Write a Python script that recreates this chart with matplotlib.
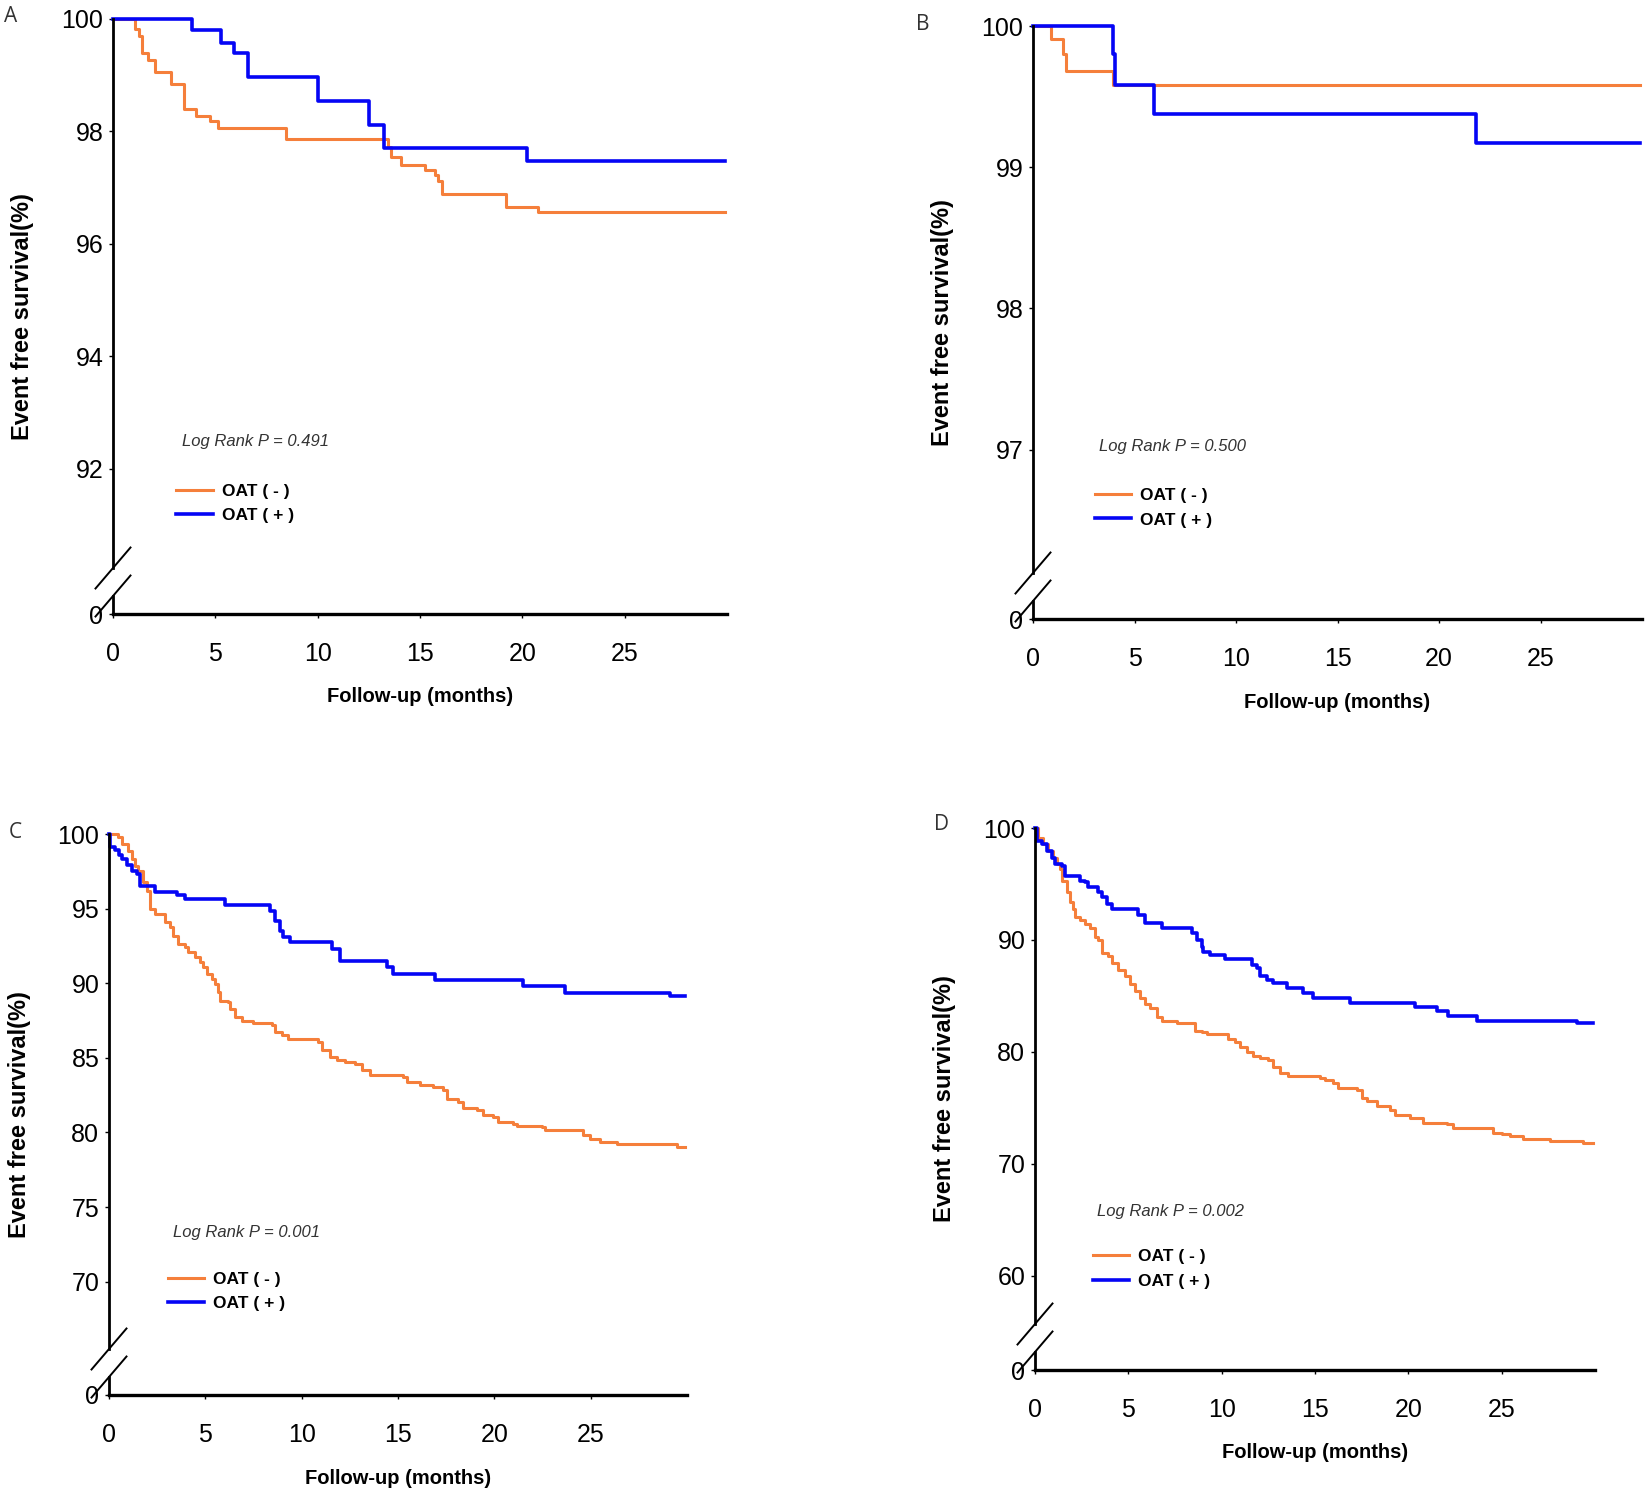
import numpy as np
import matplotlib.pyplot as plt
from matplotlib.lines import Line2D

# ---- data (months, % event free) ----
a_neg_t = [0, 1.06, 1.25, 1.40, 1.70, 2.04, 2.85, 3.47, 4.07, 4.72, 5.13, 8.44, 13.43, 13.6, 14.05,
           15.26, 15.71, 15.9, 16.07, 19.21, 20.76, 29.9]
a_neg_s = [100, 99.82, 99.70, 99.39, 99.27, 99.05, 98.84, 98.40, 98.28, 98.19, 98.07, 97.87, 97.72, 97.54,
           97.41, 97.31, 97.23, 97.12, 96.88, 96.66, 96.56, 96.56]
a_pos_t = [0, 3.87, 5.29, 5.91, 6.6, 10.01, 12.51, 13.24, 20.24, 29.9]
a_pos_s = [100, 99.80, 99.58, 99.39, 98.96, 98.55, 98.12, 97.70, 97.48, 97.48]

b_neg_t = [0, 0.9, 1.5, 1.65, 3.93, 29.9]
b_neg_s = [100, 99.91, 99.80, 99.68, 99.58, 99.58]
b_pos_t = [0, 3.93, 4.05, 5.97, 21.8, 29.9]
b_pos_s = [100, 99.80, 99.58, 99.38, 99.17, 99.17]

c_neg_t = [0, 0.48, 0.66, 1.00, 1.18, 1.35, 1.52, 1.78, 1.95, 2.13, 2.39, 2.91, 3.17, 3.34, 3.60, 3.94,
           4.12, 4.46, 4.72, 4.89, 5.07, 5.33, 5.50, 5.67, 5.76, 6.19, 6.28, 6.54, 6.88, 7.49, 8.44, 8.61,
           8.96, 9.31, 10.86, 11.04, 11.47, 11.81, 12.25, 12.76, 13.11, 13.54, 15.27, 15.45, 16.14, 16.83,
           17.35, 17.52, 18.13, 18.39, 19.08, 19.43, 19.94, 20.20, 20.98, 21.16, 22.45, 22.63, 24.62,
           24.96, 25.48, 26.35, 29.46, 29.9]
c_neg_s = [100, 99.78, 99.33, 98.88, 98.33, 97.88, 97.54, 96.76, 96.21, 94.98, 94.64, 94.08, 93.75, 93.19,
           92.63, 92.41, 92.08, 91.74, 91.41, 91.07, 90.63, 90.29, 89.96, 89.40, 88.84, 88.73, 88.28, 87.72,
           87.50, 87.34, 87.17, 86.72, 86.50, 86.27, 86.05, 85.49, 85.04, 84.82, 84.71, 84.60, 84.15, 83.82,
           83.71, 83.37, 83.15, 83.04, 82.81, 82.25, 82.03, 81.65, 81.47, 81.14, 81.03, 80.69, 80.58, 80.40,
           80.36, 80.18, 79.80, 79.58, 79.35, 79.20, 79.02, 79.02]
c_pos_t = [0, 0.05, 0.3, 0.5, 0.7, 0.92, 1.18, 1.44, 1.61, 2.39, 3.51, 3.94, 6.02, 8.36, 8.61, 8.87, 9.05,
           9.39, 11.56, 11.99, 14.41, 14.76, 16.92, 21.5, 23.67, 29.1, 29.9]
c_pos_s = [100, 99.1, 98.9, 98.6, 98.3, 97.9, 97.5, 97.3, 96.5, 96.1, 95.94, 95.65, 95.25, 94.87, 94.2,
           93.53, 93.08, 92.75, 92.3, 91.52, 91.07, 90.6, 90.22, 89.78, 89.35, 89.11, 89.11]

d_neg_t = [0, 0.18, 0.45, 0.71, 0.98, 1.16, 1.34, 1.43, 1.70, 1.87, 2.05, 2.14, 2.41, 2.68, 2.95, 3.21,
           3.39, 3.57, 3.93, 4.11, 4.46, 4.82, 5.09, 5.36, 5.62, 5.89, 6.16, 6.52, 6.79, 7.59, 8.57, 8.93,
           9.2, 10.36, 10.71, 10.98, 11.34, 11.7, 12.05, 12.5, 12.77, 13.12, 13.57, 15.27, 15.54, 15.98,
           16.25, 17.23, 17.5, 17.77, 18.3, 19.02, 19.29, 20.09, 20.80, 22.05, 22.41, 24.55, 25.0, 25.44,
           26.16, 27.58, 29.37, 29.9]
d_neg_s = [100, 99.12, 98.53, 97.94, 97.35, 96.76, 96.32, 95.29, 94.26, 93.38, 92.79, 92.06, 91.76, 91.47,
           91.03, 90.29, 90.0, 88.82, 88.53, 87.94, 87.35, 86.76, 86.03, 85.44, 84.85, 84.26, 83.97, 83.09,
           82.79, 82.56, 81.91, 81.76, 81.56, 81.18, 80.88, 80.44, 80.0, 79.62, 79.5, 79.26, 78.68, 78.09,
           77.85, 77.65, 77.5, 77.21, 76.76, 76.62, 75.88, 75.59, 75.15, 74.85, 74.41, 74.12, 73.68, 73.53,
           73.24, 72.79, 72.65, 72.5, 72.21, 72.06, 71.91, 71.91]
d_pos_t = [0, 0.09, 0.36, 0.63, 0.89, 1.07, 1.43, 1.61, 2.41, 2.68, 2.86, 3.39, 3.57, 3.84, 4.11, 5.54,
           5.89, 6.79, 8.39, 8.66, 8.93, 9.02, 9.37, 10.18, 11.61, 11.87, 12.05, 12.41, 12.77, 13.48, 14.38,
           14.91, 16.87, 20.35, 21.51, 22.14, 23.66, 29.02, 29.9]
d_pos_s = [100, 98.82, 98.53, 97.94, 97.35, 96.76, 96.62, 95.74, 95.29, 95.15, 94.71, 94.26, 93.82, 93.24,
           92.74, 92.21, 91.56, 91.09, 90.59, 90.0, 89.41, 88.97, 88.68, 88.29, 87.79, 87.5, 86.76, 86.47,
           86.18, 85.74, 85.29, 84.85, 84.41, 84.06, 83.62, 83.18, 82.79, 82.59, 82.59]

panel_letters = ["A", "B", "C", "D"]
p_values = ["0.491", "0.500", "0.001", "0.002"]
y_ticks = [[100, 98, 96, 94, 92], [100, 99, 98, 97], [100, 95, 90, 85, 80, 75, 70], [100, 90, 80, 70, 60]]
y_bottoms = [89.42, 95.8, 62.4, 51.6]
x_ticks = [0, 5, 10, 15, 20, 25]
labels = ["OAT ( - )", "OAT ( + )"]

ORANGE = "#F57F3B"
BLUE = "#0505F5"

W, H = 1645, 1491
fig = plt.figure(figsize=(W / 100, H / 100), dpi=100)

# axes boxes in pixels: left, right, top, bottom
boxes = [(113, 727, 19, 614), (1033, 1642, 26, 619), (109, 687, 834, 1395), (1035, 1595, 828, 1370)]
letter_pos = [(11, 17), (923, 24), (15, 833), (942, 824)]
note_pos = [(3.35, 92.48), (3.26, 97.02), (3.32, 73.32), (3.32, 65.72)]
leg_pos = [(3.1, 91.74), (3.05, 96.73), (3.05, 70.68), (3.1, 62.4)]

curves = [(a_neg_t, a_neg_s, a_pos_t, a_pos_s), (b_neg_t, b_neg_s, b_pos_t, b_pos_s),
          (c_neg_t, c_neg_s, c_pos_t, c_pos_s), (d_neg_t, d_neg_s, d_pos_t, d_pos_s)]

num_font = "Liberation Sans"

for i in range(4):
    l, r, t, b = boxes[i]
    wpx, hpx = r - l, b - t
    ax = fig.add_axes([l / W, 1 - b / H, wpx / W, hpx / H])
    tn, sn, tp, sp = curves[i]
    ax.step(tn, sn, where="post", color=ORANGE, lw=2.2, clip_on=False, label=labels[0])
    ax.step(tp, sp, where="post", color=BLUE, lw=2.6, clip_on=False, label=labels[1])

    ax.set_xlim(0, 30)
    ax.set_ylim(y_bottoms[i], 100)
    ax.set_xticks(x_ticks)
    ax.set_xticklabels([str(v) for v in x_ticks], family=num_font, fontsize=18)
    ax.set_yticks([y_bottoms[i]] + y_ticks[i])
    ax.set_yticklabels(["0"] + [str(v) for v in y_ticks[i]], family=num_font, fontsize=18)
    ax.tick_params(axis="y", length=3, width=1.0, pad=4)
    ax.tick_params(axis="x", length=3, width=1.0, pad=17)

    for s in ["top", "right"]:
        ax.spines[s].set_visible(False)
    ax.spines["bottom"].set_linewidth(2.4)
    ax.spines["left"].set_linewidth(2.0)

    # broken y axis: gap between two slashes near the bottom
    hi, lo = 46 / hpx, 18 / hpx
    ax.spines["left"].set_bounds(y_bottoms[i] + hi * (100 - y_bottoms[i]), 100)
    ax.add_line(Line2D([0, 0], [0, lo], transform=ax.transAxes, color="black", lw=2.0, clip_on=False))
    dx, dy = 17.5 / wpx, 20.5 / hpx
    for yc in (hi, lo):
        ax.add_line(Line2D([-dx, dx], [yc - dy, yc + dy], transform=ax.transAxes,
                           color="black", lw=1.4, clip_on=False))

    ax.set_ylabel("Event free survival(%)", family=num_font, fontweight="bold", fontsize=17, va="center")
    ax.yaxis.set_label_coords(-90 / wpx, 0.5)
    ax.set_xlabel("Follow-up (months)", family=num_font, fontweight="bold", fontsize=14.5, va="center")
    ax.xaxis.set_label_coords(0.5, -83 / hpx)

    ax.text(note_pos[i][0], note_pos[i][1], "Log Rank P = " + p_values[i], family=num_font,
            style="italic", fontsize=12, color="#333333", ha="left", va="center")

    ax.legend(loc="upper left", bbox_to_anchor=leg_pos[i], bbox_transform=ax.transData,
              frameon=False, borderpad=0, borderaxespad=0, handlelength=2.1, handletextpad=0.5,
              labelspacing=0.55, prop=dict(family=num_font, weight="bold", size=12.5))

    fig.text(letter_pos[i][0] / W, 1 - letter_pos[i][1] / H, panel_letters[i], family="Open Sans",
             fontsize=15, color="#333333", ha="center", va="center")

fig.savefig("out.png", dpi=100, facecolor="white")
